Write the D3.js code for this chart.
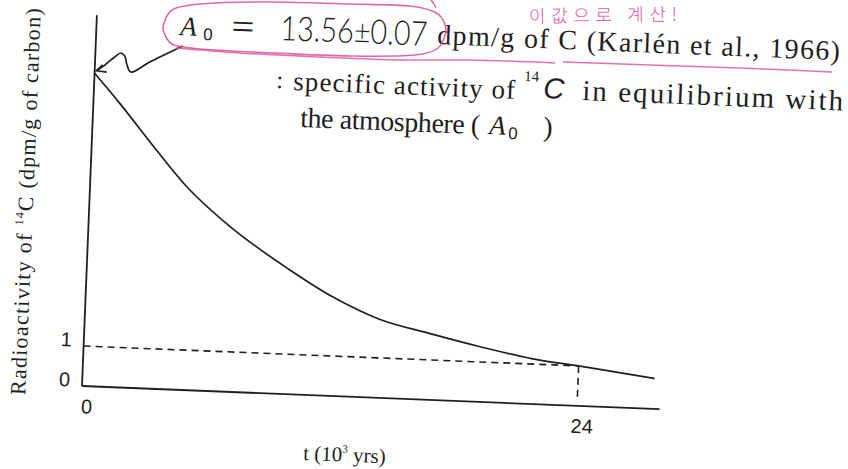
<!DOCTYPE html>
<html>
<head>
<meta charset="utf-8">
<script src="https://cdn.jsdelivr.net/npm/d3@7"></script>
<style>
  html, body { margin: 0; padding: 0; background: #fff; }
  svg { display: block; }
</style>
</head>
<body>
<svg id="chart" width="848" height="469"></svg>
<script>
// Decay of the specific activity of 14C with time
const years    = [0, 1.3, 3.0, 4.7, 6.8, 9.8, 12.0, 14.2, 16.8, 19.2, 21.7, 24, 27.7];          // t, 10^3 yrs
const activity = [13.56, 12.2, 10.3, 8.5, 6.8, 4.9, 3.7, 2.8, 2.2, 1.7, 1.25, 1.0, 0.76];     // dpm/g of C
const yTickValues = [0, 1];
const xTickValues = [0, 24];
const a0Value = 13.56;   // A0, dpm/g of C
const a0Error = 0.07;
const refLevel = 1;      // dashed guide level
const refYear = 24;      // dashed guide time

const ink = "#1f1f1f";
const pink = "#e0589c";
const serif = "'Liberation Serif', 'Times New Roman', serif";
const sans = "'Liberation Sans', Arial, sans-serif";
const tilt = 2.3;        // the whole sheet sits at a slight angle

const svg = d3.select("#chart");
svg.append("rect").attr("width", 848).attr("height", 469).attr("fill", "#fff");

// ---------- plot frame ----------
const W = 578, H = 371;
const x = d3.scaleLinear().domain([0, 28]).range([0, W]);
// schematic vertical axis: the 0–1 band is drawn stretched, the upper part compressed
const y = d3.scaleLinear().domain([0, refLevel, a0Value]).range([0, -40, -313]);

const plot = svg.append("g").attr("transform", `translate(82,386) rotate(${tilt})`);

// axis lines
plot.append("line").attr("x1", 0).attr("y1", 0).attr("x2", W).attr("y2", 0)
  .attr("stroke", ink).attr("stroke-width", 1.8);
plot.append("line").attr("x1", 0).attr("y1", 0).attr("x2", 0).attr("y2", -H)
  .attr("stroke", ink).attr("stroke-width", 1.8);

// tick labels
const xAxis = plot.append("g")
  .call(d3.axisBottom(x).tickValues(xTickValues).tickSize(0).tickPadding(0).tickFormat(d3.format("d")));
xAxis.select(".domain").remove();
xAxis.selectAll("text")
  .attr("y", 13).attr("dx", 5)
  .attr("font-family", sans).attr("font-size", 20).attr("fill", ink);

const yAxis = plot.append("g")
  .call(d3.axisLeft(y).tickValues(yTickValues).tickSize(0).tickPadding(12).tickFormat(d3.format("d")));
yAxis.select(".domain").remove();
yAxis.selectAll("text")
  .attr("y", -6)
  .attr("font-family", sans).attr("font-size", 20).attr("fill", ink);

// dashed guides at A = 1, t = 24
plot.append("line")
  .attr("x1", x(0)).attr("y1", y(refLevel)).attr("x2", x(refYear)).attr("y2", y(refLevel))
  .attr("stroke", ink).attr("stroke-width", 1.6).attr("stroke-dasharray", "7,5");
plot.append("line")
  .attr("x1", x(refYear)).attr("y1", y(refLevel)).attr("x2", x(refYear)).attr("y2", y(0) - 7)
  .attr("stroke", ink).attr("stroke-width", 1.6).attr("stroke-dasharray", "7,5");

// decay curve
const pts = years.map((t, i) => [t, activity[i]]);
plot.append("path")
  .datum(pts)
  .attr("d", d3.line().x(d => x(d[0])).y(d => y(d[1])).curve(d3.curveMonotoneX))
  .attr("fill", "none").attr("stroke", ink).attr("stroke-width", 1.7);

// hand-drawn arrow pointing at A0
const tip = [x(0) + 1.8, y(a0Value) - 2.6];
const squiggle = [[85.3, -28.2], [52.9, -10.9], [34.4, -0.1], [30.0, -7.9], [27.7, -15.9],
                  [23.6, -18.7], [17.7, -14.5], [8.1, -6.0], [0, 0]];
plot.append("path")
  .attr("d", d3.line().curve(d3.curveCatmullRom.alpha(0.5))(squiggle.map(p => [tip[0] + p[0], tip[1] + p[1]])))
  .attr("fill", "none").attr("stroke", ink).attr("stroke-width", 1.7);
plot.append("path")
  .attr("d", `M${tip[0] + 6.1},${tip[1] - 6} L${tip[0]},${tip[1]} L${tip[0] + 10.3},${tip[1] + 0.9}`)
  .attr("fill", "none").attr("stroke", ink).attr("stroke-width", 1.7);

// axis titles
const yTitle = plot.append("text")
  .attr("transform", "translate(-64,-182) rotate(-90)")
  .attr("text-anchor", "middle").attr("dy", "0.35em")
  .attr("font-family", serif).attr("font-size", 22).attr("fill", ink)
  .attr("textLength", 387).attr("lengthAdjust", "spacing");
yTitle.append("tspan").text("Radioactivity of ");
yTitle.append("tspan").attr("font-size", 12).attr("dy", -9).text("14");
yTitle.append("tspan").attr("dy", 9).text("C (dpm/g of carbon)");

const xTitle = plot.append("text")
  .attr("x", 265).attr("y", 65).attr("text-anchor", "middle")
  .attr("font-family", serif).attr("font-size", 21).attr("fill", ink);
xTitle.append("tspan").text("t (10");
xTitle.append("tspan").attr("font-size", 11).attr("dy", -9).text("3");
xTitle.append("tspan").attr("dy", 9).text(" yrs)");

// ---------- annotation text ----------
function note(sx, sy) {
  return svg.append("text")
    .attr("transform", `translate(${sx},${sy}) rotate(${tilt})`)
    .attr("fill", ink);
}

note(180, 35).attr("font-family", serif).attr("font-style", "italic").attr("font-size", 27).text("A");
note(203, 40).attr("font-family", sans).attr("font-size", 17).text("0");
note(231, 38).attr("font-family", serif).attr("font-size", 36).attr("font-weight", 300)
  .attr("textLength", 23).attr("lengthAdjust", "spacingAndGlyphs").text("=");
note(280, 40).attr("font-family", "'Lato', 'Open Sans', sans-serif").attr("font-weight", 300)
  .attr("font-size", 34)
  .attr("textLength", 147).attr("lengthAdjust", "spacingAndGlyphs")
  .text(`${a0Value.toFixed(2)}±${a0Error.toFixed(2)}`);
note(437, 44).attr("font-family", serif).attr("font-size", 28)
  .attr("textLength", 403).attr("lengthAdjust", "spacing")
  .text("dpm/g of C (Karlén et al., 1966)");

note(276, 88).attr("font-family", serif).attr("font-size", 25).text(":");
note(293, 90).attr("font-family", serif).attr("font-size", 27)
  .attr("textLength", 222).attr("lengthAdjust", "spacing").text("specific activity of");
note(524, 81).attr("font-family", serif).attr("font-size", 15).text("14");
note(543, 98).attr("font-family", sans).attr("font-style", "italic").attr("font-size", 29).text("C");
note(582, 100).attr("font-family", serif).attr("font-size", 29)
  .attr("textLength", 261).attr("lengthAdjust", "spacing").text("in equilibrium with");

note(300, 127).attr("font-family", serif).attr("font-size", 28)
  .attr("textLength", 180).attr("lengthAdjust", "spacing").text("the atmosphere (");
note(489, 134).attr("font-family", serif).attr("font-style", "italic").attr("font-size", 27).text("A");
note(508, 139).attr("font-family", sans).attr("font-size", 17).text("0");
note(543, 136).attr("font-family", serif).attr("font-size", 28).text(")");

// ---------- pink hand marks ----------
const hand = d3.line().curve(d3.curveCatmullRom.alpha(0.5));
svg.append("path")
  .attr("d", d3.line().curve(d3.curveCardinalClosed.tension(0.2))([
    [163, 28], [172, 10], [200, 4], [270, 2], [350, 4], [410, 6], [438, 14], [446, 30],
    [438, 48], [415, 55], [350, 56], [273, 53], [200, 49], [172, 44]]))
  .attr("fill", "none").attr("stroke", pink).attr("stroke-width", 1.6).attr("opacity", 0.9);
svg.append("path")
  .attr("d", hand([[176, 48], [240, 53], [320, 57], [400, 60], [470, 60], [555, 63]]))
  .attr("fill", "none").attr("stroke", pink).attr("stroke-width", 1.5).attr("opacity", 0.85);
svg.append("path")
  .attr("d", hand([[563, 62], [650, 65], [740, 68], [832, 72]]))
  .attr("fill", "none").attr("stroke", pink).attr("stroke-width", 1.5).attr("opacity", 0.85);
svg.append("path")
  .attr("d", hand([[431, 0], [434, 4], [436, 8]]))
  .attr("fill", "none").attr("stroke", pink).attr("stroke-width", 1.4);

svg.append("text")
  .attr("transform", "translate(529,23) rotate(-1)")
  .attr("font-family", "'Noto Sans CJK KR', sans-serif").attr("font-weight", 300)
  .attr("font-size", 18).attr("fill", pink)
  .attr("textLength", 148).attr("lengthAdjust", "spacing")
  .text("이값으로 계산!");
</script>
</body>
</html>
